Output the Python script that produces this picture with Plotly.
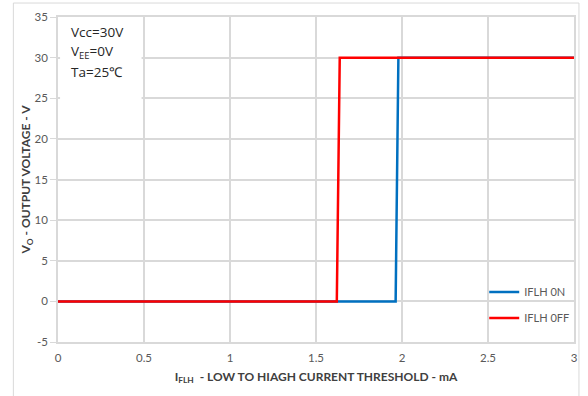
import plotly.graph_objects as go

# Data
on_x = [0, 1.963, 1.979, 3]
on_y = [0, 0, 30, 30]
off_x = [0, 1.621, 1.638, 3]
off_y = [0, 0, 30, 30]
x_ticks = [0, 0.5, 1, 1.5, 2, 2.5, 3]
x_labels = ["0", "0.5", "1", "1.5", "2", "2.5", "3"]
y_ticks = [-5, 0, 5, 10, 15, 20, 25, 30, 35]
y_labels = ["-5", "0", "5", "10", "15", "20", "25", "30", "35"]
cond_lines = ["Vcc=30V", "V<sub>EE</sub>=0V", "Ta=25℃"]

FONT = "Lato"
GRID = "#d9d9d9"

fig = go.Figure()
fig.add_trace(go.Scatter(x=on_x, y=on_y, mode="lines", name="IFLH 0N", showlegend=True,
                         line=dict(color="#0070C0", width=2.5), legend="legend"))
fig.add_trace(go.Scatter(x=off_x, y=off_y, mode="lines", name="IFLH 0FF", showlegend=True,
                         line=dict(color="#FF0000", width=2.5), legend="legend2"))

legend_common = dict(bgcolor="rgba(0,0,0,0)", font=dict(family=FONT, size=11, color="#595959"),
                     xanchor="left", yanchor="middle", x=0.826, visible=True)

fig.update_layout(
    width=588, height=396,
    margin=dict(l=58, r=10, t=17, b=54),
    paper_bgcolor="white", plot_bgcolor="white",
    showlegend=True,
    font=dict(family=FONT, color="#595959"),
    legend=dict(**legend_common, y=0.154),
    legend2=dict(**legend_common, y=0.074),
    xaxis=dict(range=[0, 3], tickvals=x_ticks, ticktext=x_labels,
               showgrid=True, gridcolor=GRID, gridwidth=1.5,
               showline=True, linecolor=GRID, linewidth=1.5, mirror=True,
               zeroline=False, ticks="outside", ticklen=4, tickcolor="rgba(0,0,0,0)",
               tickfont=dict(family=FONT, size=11.5, color="#595959"),
               title=dict(text="<b>I<sub>FLH</sub>  - LOW TO HIAGH CURRENT THRESHOLD - mA</b>",
                          font=dict(family=FONT, size=12, color="#404040"), standoff=10)),
    yaxis=dict(range=[-5, 35], tickvals=y_ticks, ticktext=y_labels,
               showgrid=True, gridcolor=GRID, gridwidth=1.5,
               showline=True, linecolor=GRID, linewidth=1.5, mirror=True,
               zeroline=False, ticks="outside", ticklen=6, tickcolor=GRID,
               tickfont=dict(family=FONT, size=11.5, color="#595959"),
               title=dict(text="<b>V<sub>O</sub> - OUTPUT VOLTAGE - V</b>",
                          font=dict(family=FONT, size=12, color="#404040"), standoff=0)),
)

# white box behind the condition text
fig.add_shape(type="rect", xref="paper", yref="paper", x0=0.004, x1=0.162, y0=0.74, y1=0.996,
              fillcolor="white", line=dict(width=0), layer="above")
# outer chart border
fig.add_shape(type="rect", xref="paper", yref="paper", x0=-0.0865, x1=1.0096, y0=-0.2, y1=1.043,
              fillcolor="rgba(0,0,0,0)", line=dict(color=GRID, width=1))

for txt, yp in zip(cond_lines, [0.954, 0.892, 0.831]):
    fig.add_annotation(xref="paper", yref="paper", x=0.024, y=yp, xanchor="left", yanchor="middle",
                       align="left", showarrow=False, text=txt, borderpad=0,
                       font=dict(family="Open Sans", size=13.5, color="#262626"))

fig.write_html("out.html")
